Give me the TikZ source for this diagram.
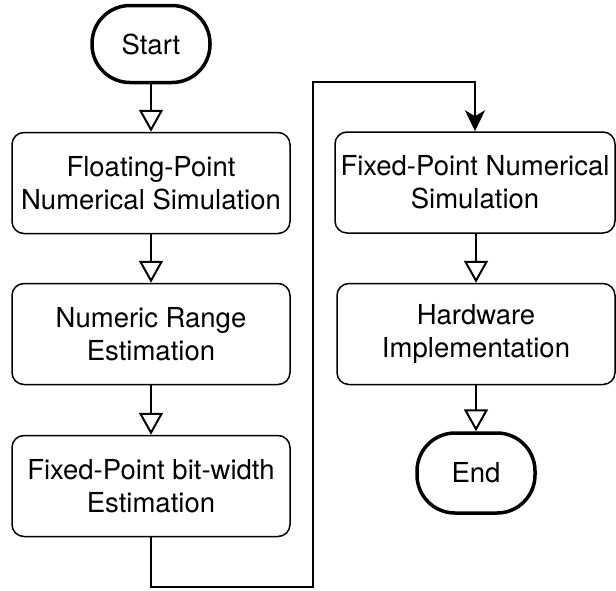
\documentclass[tikz,border=0pt]{standalone}
\usepackage{fontspec}
\setmainfont{TeX Gyre Heros}
\usetikzlibrary{arrows.meta}
\begin{document}
\begin{tikzpicture}[x=1pt,y=-1pt,
  lbl/.style={font=\fontsize{27.5}{33}\selectfont, align=center, inner sep=0pt},
  proc/.style={lbl, draw, line width=1.5pt, rounded corners=12pt, minimum width=278pt, minimum height=101pt},
  term/.style={lbl, draw, line width=3.5pt, rounded corners=38pt, minimum width=118pt, minimum height=77pt},
  flow/.style={line width=2pt, -{Triangle[open, length=22pt, width=24pt, line width=2pt]}},
  jump/.style={line width=2pt, -{Stealth[length=21pt, width=20pt, inset=6pt]}}]
\useasboundingbox (0,0) rectangle (616,590);
\node[term] (start) at (151,44) {Start};
\node[proc] (b1) at (151,183) {Floating-Point\\Numerical Simulation};
\node[proc] (b2) at (151,334) {Numeric Range\\Estimation};
\node[proc] (b3) at (151,486) {Fixed-Point bit-width\\Estimation};
\node[proc, minimum width=280pt] (b4) at (475,182.5) {Fixed-Point Numerical\\Simulation};
\node[proc] (b5) at (476,334) {Hardware\\Implementation};
\node[term, minimum height=80pt] (end) at (476,473) {End};
\coordinate (c1) at (151,587);
\coordinate (c2) at (313,587);
\coordinate (c3) at (313,82);
\coordinate (c4) at (475,82);
\draw[flow] (start) -- (b1);
\draw[flow] (b1) -- (b2);
\draw[flow] (b2) -- (b3);
\draw[jump] (b3.south) -- (c1) -- (c2) -- (c3) -- (c4) -- (b4.north);
\draw[flow] (b4.south -| b5) -- (b5);
\draw[flow] (b5) -- (end);
\end{tikzpicture}
\end{document}
